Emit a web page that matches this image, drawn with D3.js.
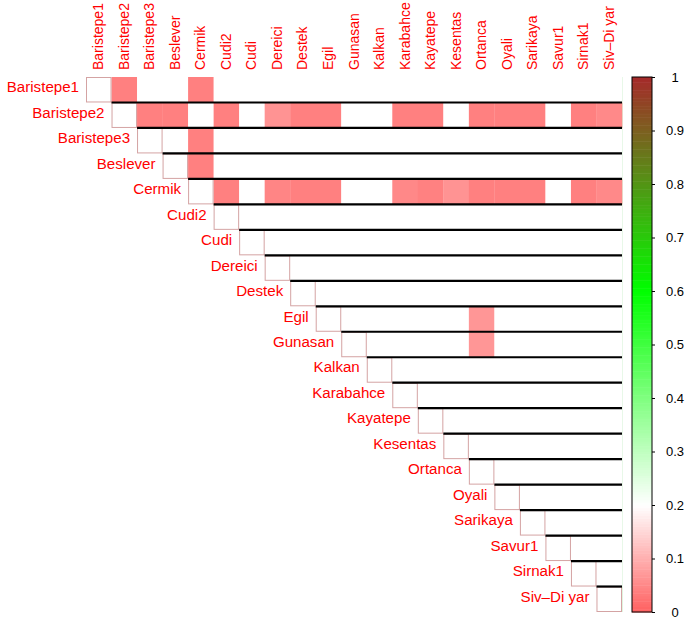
<!DOCTYPE html>
<html>
<head>
<meta charset="utf-8">
<script src="https://cdn.jsdelivr.net/npm/d3@7"></script>
<style>
html,body{margin:0;padding:0;background:#fff;}
svg{display:block;font-family:"Liberation Sans",Arial,Helvetica,sans-serif;}
</style>
</head>
<body>
<svg id="chart" width="685" height="617"></svg>
<script>
// ---- data ----
const vars = ["Baristepe1","Baristepe2","Baristepe3","Beslever","Cermik","Cudi2","Cudi","Dereici","Destek","Egil","Gunasan","Kalkan","Karabahce","Kayatepe","Kesentas","Ortanca","Oyali","Sarikaya","Savur1","Sirnak1","Siv–Di yar"];

// upper-triangle values: row i lists columns i+1 .. 20
const row0  = [0.04,0.2,0.2,0.04,0.2,0.2,0.2,0.2,0.2,0.2,0.2,0.2,0.2,0.2,0.2,0.2,0.2,0.2,0.2,0.2];
const row1  = [0.04,0.04,0.2,0.04,0.2,0.064,0.04,0.04,0.2,0.2,0.04,0.04,0.2,0.04,0.04,0.04,0.2,0.04,0.052];
const row2  = [0.2,0.04,0.2,0.2,0.2,0.2,0.2,0.2,0.2,0.2,0.2,0.2,0.2,0.2,0.2,0.2,0.2,0.2];
const row3  = [0.04,0.2,0.2,0.2,0.2,0.2,0.2,0.2,0.2,0.2,0.2,0.2,0.2,0.2,0.2,0.2,0.2];
const row4  = [0.04,0.2,0.046,0.04,0.04,0.2,0.2,0.05,0.042,0.064,0.04,0.04,0.04,0.2,0.04,0.052];
const row5  = [0.2,0.2,0.2,0.2,0.2,0.2,0.2,0.2,0.2,0.2,0.2,0.2,0.2,0.2,0.2];
const row6  = [0.2,0.2,0.2,0.2,0.2,0.2,0.2,0.2,0.2,0.2,0.2,0.2,0.2,0.2];
const row7  = [0.2,0.2,0.2,0.2,0.2,0.2,0.2,0.2,0.2,0.2,0.2,0.2,0.2];
const row8  = [0.2,0.2,0.2,0.2,0.2,0.2,0.2,0.2,0.2,0.2,0.2,0.2];
const row9  = [0.2,0.2,0.2,0.2,0.2,0.068,0.2,0.2,0.2,0.2,0.2];
const row10 = [0.2,0.2,0.2,0.2,0.068,0.2,0.2,0.2,0.2,0.2];
const row11 = [0.2,0.2,0.2,0.2,0.2,0.2,0.2,0.2,0.2];
const row12 = [0.2,0.2,0.2,0.2,0.2,0.2,0.2,0.2];
const row13 = [0.2,0.2,0.2,0.2,0.2,0.2,0.2];
const row14 = [0.2,0.2,0.2,0.2,0.2,0.2];
const row15 = [0.2,0.2,0.2,0.2,0.2];
const row16 = [0.2,0.2,0.2,0.2];
const row17 = [0.2,0.2,0.2];
const row18 = [0.2,0.2];
const row19 = [0.2];
const row20 = [];
const rows = [row0,row1,row2,row3,row4,row5,row6,row7,row8,row9,row10,row11,row12,row13,row14,row15,row16,row17,row18,row19,row20];

const legendTicks = [0,0.1,0.2,0.3,0.4,0.5,0.6,0.7,0.8,0.9,1];
const legendLabels = ["0","0.1","0.2","0.3","0.4","0.5","0.6","0.7","0.8","0.9","1"];

// ---- drawing ----
const svg = d3.select("#chart");
const gridLeft = 86, gridRight = 622, gridTop = 77, gridBottom = 612;

const x = d3.scaleBand().domain(vars).range([gridLeft, gridRight]);
const y = d3.scaleBand().domain(vars).range([gridTop, gridBottom]);
const color = d3.scaleLinear()
  .domain([0, 0.2, 0.6, 1])
  .range(["#ff6060", "#ffffff", "#00ff00", "#a52a2a"])
  .clamp(true);

const cells = [];
rows.forEach((r, i) => r.forEach((v, k) => cells.push({row: vars[i], col: vars[i + 1 + k], v})));

// faint right edge
svg.append("line")
  .attr("x1", gridRight + 0.5).attr("x2", gridRight + 0.5)
  .attr("y1", gridTop).attr("y2", gridBottom)
  .attr("stroke", "#dff5df").attr("stroke-width", 1);

// off-diagonal cells
svg.append("g").selectAll("rect").data(cells).join("rect")
  .attr("x", d => x(d.col))
  .attr("y", d => y(d.row))
  .attr("width", x.bandwidth() + 0.3)
  .attr("height", y.bandwidth() + 0.3)
  .attr("fill", d => color(d.v));

// diagonal cells
svg.append("g").selectAll("rect").data(vars).join("rect")
  .attr("x", d => x(d) + 0.5)
  .attr("y", d => y(d) + 0.5)
  .attr("width", x.bandwidth() - 1)
  .attr("height", y.bandwidth() - 1)
  .attr("fill", "#fff")
  .attr("stroke", "#d4a3a3")
  .attr("stroke-width", 1);

// black separators at the top of each row from the diagonal to the right
svg.append("g").selectAll("line").data(vars.slice(1)).join("line")
  .attr("x1", d => x(d))
  .attr("x2", gridRight)
  .attr("y1", d => y(d))
  .attr("y2", d => y(d))
  .attr("stroke", "#000")
  .attr("stroke-width", 2.2);

// row labels
svg.append("g").selectAll("text").data(vars).join("text")
  .attr("transform", d => `translate(${x(d) - 7},${y(d) + y.bandwidth() / 2 + 2.5}) scale(1.08,1)`)
  .attr("text-anchor", "end")
  .attr("font-size", 14)
  .attr("fill", "#ff0000")
  .text(d => d);

// column labels
svg.append("g").selectAll("text").data(vars).join("text")
  .attr("transform", d => `translate(${x(d) + x.bandwidth() / 2 + 4.5},70) rotate(-90)`)
  .attr("text-anchor", "start")
  .attr("font-size", 14)
  .attr("fill", "#ff0000")
  .text(d => d);

// colour legend
const cbX = 632, cbW = 20;
const cbY = d3.scaleLinear().domain([0, 1]).range([gridBottom, gridTop]);
const steps = d3.range(0, 200).map(i => i / 200);
svg.append("g").selectAll("rect").data(steps).join("rect")
  .attr("x", cbX)
  .attr("y", d => cbY(d + 1 / 200))
  .attr("width", cbW)
  .attr("height", d => cbY(d) - cbY(d + 1 / 200) + 0.5)
  .attr("fill", d => color(d + 0.5 / 200));
svg.append("rect")
  .attr("x", cbX).attr("y", gridTop)
  .attr("width", cbW).attr("height", gridBottom - gridTop)
  .attr("fill", "none").attr("stroke", "#000").attr("stroke-width", 1);

const axis = d3.axisRight(cbY)
  .tickValues(legendTicks)
  .tickFormat((d, i) => legendLabels[i])
  .tickSize(3);
const ag = svg.append("g")
  .attr("transform", `translate(${cbX + cbW},0)`)
  .call(axis);
ag.select(".domain").remove();
ag.selectAll(".tick line").attr("stroke", "#000");
ag.selectAll(".tick text")
  .attr("x", 23)
  .attr("text-anchor", "middle")
  .attr("font-size", 13)
  .attr("font-family", "Liberation Sans, Arial, sans-serif")
  .attr("fill", "#000");
</script>
</body>
</html>
